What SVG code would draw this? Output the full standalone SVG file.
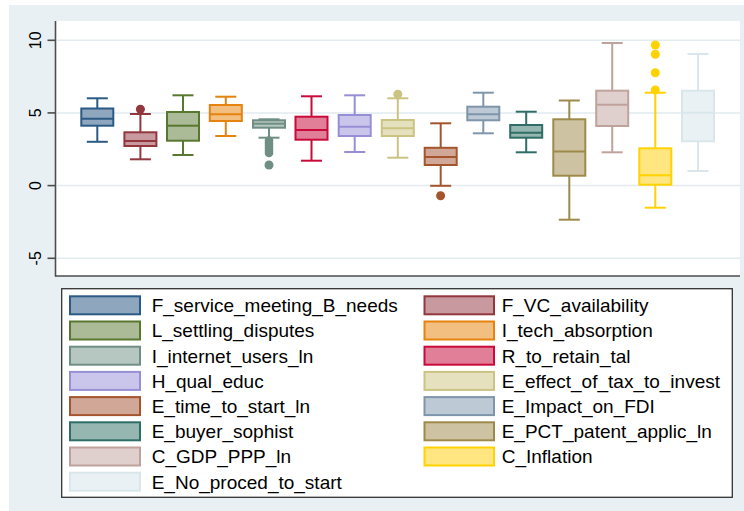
<svg xmlns="http://www.w3.org/2000/svg" width="744" height="511" viewBox="0 0 744 511">
<style>
text{font-family:"Liberation Sans",Arial,sans-serif;fill:#000}
.tick{font-size:16px;text-anchor:middle}
.leg{font-size:19px}
.grid{stroke:#e2ebef;stroke-width:1.5}
.axis{stroke:#4d4d4d;stroke-width:1.6;fill:none}
.bx rect,.bx line,.sw{stroke-width:2}
.bx line{fill:none}
.c1{stroke:#2b5a85;fill:#8ea6be}
.c2{stroke:#92373e;fill:#c8999e}
.c3{stroke:#58772f;fill:#abbb97}
.c4{stroke:#e5830e;fill:#f2bf80}
.c5{stroke:#6f8f84;fill:#b6c7c1}
.c6{stroke:#c90a3a;fill:#e07f97}
.c7{stroke:#968fd6;fill:#cac6eb}
.c8{stroke:#cbc381;fill:#e5e1bf}
.c9{stroke:#a5552e;fill:#d1a897}
.c10{stroke:#7e95ab;fill:#bdc9d4}
.c11{stroke:#2f6e66;fill:#95b6b1}
.c12{stroke:#9d8a4a;fill:#cdc3a3}
.c13{stroke:#c0a29d;fill:#dfcfcd}
.c14{stroke:#ffd200;fill:#ffe680}
.c15{stroke:#d9e6eb;fill:#eaf1f4}
.o2{fill:#92373e}.o5{fill:#6f8f84}.o8{fill:#cbc381}.o9{fill:#a5552e}.o14{fill:#ffd200}
</style>
<rect x="0" y="0" width="744" height="511" fill="#ffffff"/>
<rect x="9" y="5" width="735" height="506" fill="#e9f0f3"/>
<rect x="55" y="21" width="685" height="255" fill="#ffffff"/>
<g id="grid">
<line class="grid" x1="57" y1="40.3" x2="740" y2="40.3"/>
<line class="grid" x1="57" y1="112.9" x2="740" y2="112.9"/>
<line class="grid" x1="57" y1="185.6" x2="740" y2="185.6"/>
<line class="grid" x1="57" y1="258.3" x2="740" y2="258.3"/>
</g>
<g id="axes">
<line class="axis" x1="55.5" y1="21" x2="55.5" y2="276.5"/>
<line class="axis" x1="55" y1="276" x2="740" y2="276"/>
<line class="axis" x1="47.5" y1="40.3" x2="55.5" y2="40.3"/>
<line class="axis" x1="47.5" y1="112.9" x2="55.5" y2="112.9"/>
<line class="axis" x1="47.5" y1="185.6" x2="55.5" y2="185.6"/>
<line class="axis" x1="47.5" y1="258.3" x2="55.5" y2="258.3"/>
<text class="tick" transform="translate(40.5,40.3) rotate(-90)">10</text>
<text class="tick" transform="translate(40.5,112.9) rotate(-90)">5</text>
<text class="tick" transform="translate(40.5,185.6) rotate(-90)">0</text>
<text class="tick" transform="translate(40.5,258.3) rotate(-90)">-5</text>
</g>
<g id="connectors">
<g class="bx c1"><line x1="97.3" y1="98.3" x2="97.3" y2="141.8"/><line x1="86.8" y1="98.3" x2="107.8" y2="98.3"/><line x1="86.8" y1="141.8" x2="107.8" y2="141.8"/></g>
<g class="bx c2"><line x1="140.4" y1="114" x2="140.4" y2="159.3"/><line x1="129.9" y1="114" x2="150.9" y2="114"/><line x1="129.9" y1="159.3" x2="150.9" y2="159.3"/></g>
<g class="bx c3"><line x1="183" y1="95.3" x2="183" y2="155"/><line x1="172.5" y1="95.3" x2="193.5" y2="95.3"/><line x1="172.5" y1="155" x2="193.5" y2="155"/></g>
<g class="bx c4"><line x1="225.8" y1="96.7" x2="225.8" y2="136"/><line x1="215.3" y1="96.7" x2="236.3" y2="96.7"/><line x1="215.3" y1="136" x2="236.3" y2="136"/></g>
<g class="bx c5"><line x1="269" y1="119.3" x2="269" y2="137.7"/><line x1="258.5" y1="119.3" x2="279.5" y2="119.3"/><line x1="258.5" y1="137.7" x2="279.5" y2="137.7"/></g>
<g class="bx c6"><line x1="311.5" y1="96.3" x2="311.5" y2="160.7"/><line x1="301" y1="96.3" x2="322" y2="96.3"/><line x1="301" y1="160.7" x2="322" y2="160.7"/></g>
<g class="bx c7"><line x1="354.7" y1="95.3" x2="354.7" y2="152"/><line x1="344.2" y1="95.3" x2="365.2" y2="95.3"/><line x1="344.2" y1="152" x2="365.2" y2="152"/></g>
<g class="bx c8"><line x1="397.8" y1="98.3" x2="397.8" y2="157.7"/><line x1="387.3" y1="98.3" x2="408.3" y2="98.3"/><line x1="387.3" y1="157.7" x2="408.3" y2="157.7"/></g>
<g class="bx c9"><line x1="440.7" y1="123.3" x2="440.7" y2="185.8"/><line x1="430.2" y1="123.3" x2="451.2" y2="123.3"/><line x1="430.2" y1="185.8" x2="451.2" y2="185.8"/></g>
<g class="bx c10"><line x1="483.3" y1="92.7" x2="483.3" y2="133.3"/><line x1="472.8" y1="92.7" x2="493.8" y2="92.7"/><line x1="472.8" y1="133.3" x2="493.8" y2="133.3"/></g>
<g class="bx c11"><line x1="526.2" y1="111.7" x2="526.2" y2="152.3"/><line x1="515.7" y1="111.7" x2="536.7" y2="111.7"/><line x1="515.7" y1="152.3" x2="536.7" y2="152.3"/></g>
<g class="bx c12"><line x1="569.3" y1="100.5" x2="569.3" y2="219.7"/><line x1="558.8" y1="100.5" x2="579.8" y2="100.5"/><line x1="558.8" y1="219.7" x2="579.8" y2="219.7"/></g>
<g class="bx c13"><line x1="612.2" y1="43" x2="612.2" y2="152.3"/><line x1="601.7" y1="43" x2="622.7" y2="43"/><line x1="601.7" y1="152.3" x2="622.7" y2="152.3"/></g>
<g class="bx c14"><line x1="655.3" y1="92.7" x2="655.3" y2="207.7"/><line x1="644.8" y1="92.7" x2="665.8" y2="92.7"/><line x1="644.8" y1="207.7" x2="665.8" y2="207.7"/></g>
<g class="bx c15"><line x1="698" y1="54" x2="698" y2="171"/><line x1="687.5" y1="54" x2="708.5" y2="54"/><line x1="687.5" y1="171" x2="708.5" y2="171"/></g>
</g>
<g id="box-F_service_meeting_B_needs" class="bx c1"><rect x="81.3" y="108.5" width="32" height="17.2"/><line x1="81.3" y1="118.7" x2="113.3" y2="118.7"/></g>
<g id="box-F_VC_availability" class="bx c2"><rect x="124.4" y="132.3" width="32" height="13.7"/><line x1="124.4" y1="141" x2="156.4" y2="141"/><circle class="o2" cx="140.4" cy="109.3" r="4.5" stroke="none"/></g>
<g id="box-L_settling_disputes" class="bx c3"><rect x="167" y="112" width="32" height="28.7"/><line x1="167" y1="125.7" x2="199" y2="125.7"/></g>
<g id="box-I_tech_absorption" class="bx c4"><rect x="209.8" y="105" width="32" height="16"/><line x1="209.8" y1="114.3" x2="241.8" y2="114.3"/></g>
<g id="box-I_internet_users_ln" class="bx c5"><rect x="253" y="120.3" width="32" height="7.4"/><line x1="253" y1="123.7" x2="285" y2="123.7"/>
<g class="o5" stroke="none"><circle cx="269" cy="140.5" r="4.3"/><circle cx="269" cy="143" r="4.3"/><circle cx="269" cy="145.5" r="4.3"/><circle cx="269" cy="148" r="4.3"/><circle cx="269" cy="150.5" r="4.3"/><circle cx="269" cy="153" r="4.3"/><circle cx="269" cy="165" r="4.5"/></g></g>
<g id="box-R_to_retain_tal" class="bx c6"><rect x="295.5" y="116.7" width="32" height="23"/><line x1="295.5" y1="130" x2="327.5" y2="130"/></g>
<g id="box-H_qual_educ" class="bx c7"><rect x="338.7" y="115" width="32" height="21"/><line x1="338.7" y1="126.7" x2="370.7" y2="126.7"/></g>
<g id="box-E_effect_of_tax_to_invest" class="bx c8"><rect x="381.8" y="120" width="32" height="16"/><line x1="381.8" y1="128.3" x2="413.8" y2="128.3"/><circle class="o8" cx="397.8" cy="94.3" r="4.5" stroke="none"/></g>
<g id="box-E_time_to_start_ln" class="bx c9"><rect x="424.7" y="147.8" width="32" height="17.2"/><line x1="424.7" y1="157" x2="456.7" y2="157"/><circle class="o9" cx="440.6" cy="195.8" r="4.5" stroke="none"/></g>
<g id="box-E_Impact_on_FDI" class="bx c10"><rect x="467.3" y="106.7" width="32" height="13.6"/><line x1="467.3" y1="114.3" x2="499.3" y2="114.3"/></g>
<g id="box-E_buyer_sophist" class="bx c11"><rect x="510.2" y="125" width="32" height="12.7"/><line x1="510.2" y1="132.8" x2="542.2" y2="132.8"/></g>
<g id="box-E_PCT_patent_applic_ln" class="bx c12"><rect x="553.3" y="119.3" width="32" height="56.4"/><line x1="553.3" y1="151.5" x2="585.3" y2="151.5"/></g>
<g id="box-C_GDP_PPP_ln" class="bx c13"><rect x="596.2" y="90.7" width="32" height="35.3"/><line x1="596.2" y1="104.7" x2="628.2" y2="104.7"/></g>
<g id="box-C_Inflation" class="bx c14"><rect x="639.3" y="148.3" width="32" height="36.4"/><line x1="639.3" y1="175.3" x2="671.3" y2="175.3"/>
<g class="o14" stroke="none"><circle cx="655.3" cy="45" r="4.5"/><circle cx="655.3" cy="54.3" r="4.5"/><circle cx="655.3" cy="72.7" r="4.5"/><circle cx="655.3" cy="90" r="4.5"/></g></g>
<g id="box-E_No_proced_to_start" class="bx c15"><rect x="682" y="90.7" width="32" height="50.6"/><line x1="682" y1="112.7" x2="714" y2="112.7"/></g>
<g id="legend">
<rect x="61.7" y="288.7" width="670.6" height="208.6" fill="#ffffff" stroke="#333333" stroke-width="1.3"/>
<g id="leg-F_service_meeting_B_needs"><rect class="sw c1" x="70" y="296.3" width="70" height="18"/><text class="leg" x="151.7" y="312.1">F_service_meeting_B_needs</text></g>
<g id="leg-L_settling_disputes"><rect class="sw c3" x="70" y="321.5" width="70" height="18"/><text class="leg" x="151.7" y="337.3">L_settling_disputes</text></g>
<g id="leg-I_internet_users_ln"><rect class="sw c5" x="70" y="346.7" width="70" height="18"/><text class="leg" x="151.7" y="362.5">I_internet_users_ln</text></g>
<g id="leg-H_qual_educ"><rect class="sw c7" x="70" y="371.9" width="70" height="18"/><text class="leg" x="151.7" y="387.7">H_qual_educ</text></g>
<g id="leg-E_time_to_start_ln"><rect class="sw c9" x="70" y="397.1" width="70" height="18"/><text class="leg" x="151.7" y="412.9">E_time_to_start_ln</text></g>
<g id="leg-E_buyer_sophist"><rect class="sw c11" x="70" y="422.3" width="70" height="18"/><text class="leg" x="151.7" y="438.1">E_buyer_sophist</text></g>
<g id="leg-C_GDP_PPP_ln"><rect class="sw c13" x="70" y="447.5" width="70" height="18"/><text class="leg" x="151.7" y="463.3">C_GDP_PPP_ln</text></g>
<g id="leg-E_No_proced_to_start"><rect class="sw c15" x="70" y="472.7" width="70" height="18"/><text class="leg" x="151.7" y="488.5">E_No_proced_to_start</text></g>
<g id="leg-F_VC_availability"><rect class="sw c2" x="424.5" y="296.3" width="69.5" height="18"/><text class="leg" x="501.7" y="312.1">F_VC_availability</text></g>
<g id="leg-I_tech_absorption"><rect class="sw c4" x="424.5" y="321.5" width="69.5" height="18"/><text class="leg" x="501.7" y="337.3">I_tech_absorption</text></g>
<g id="leg-R_to_retain_tal"><rect class="sw c6" x="424.5" y="346.7" width="69.5" height="18"/><text class="leg" x="501.7" y="362.5">R_to_retain_tal</text></g>
<g id="leg-E_effect_of_tax_to_invest"><rect class="sw c8" x="424.5" y="371.9" width="69.5" height="18"/><text class="leg" x="501.7" y="387.7">E_effect_of_tax_to_invest</text></g>
<g id="leg-E_Impact_on_FDI"><rect class="sw c10" x="424.5" y="397.1" width="69.5" height="18"/><text class="leg" x="501.7" y="412.9">E_Impact_on_FDI</text></g>
<g id="leg-E_PCT_patent_applic_ln"><rect class="sw c12" x="424.5" y="422.3" width="69.5" height="18"/><text class="leg" x="501.7" y="438.1">E_PCT_patent_applic_ln</text></g>
<g id="leg-C_Inflation"><rect class="sw c14" x="424.5" y="447.5" width="69.5" height="18"/><text class="leg" x="501.7" y="463.3">C_Inflation</text></g>
</g>
</svg>
